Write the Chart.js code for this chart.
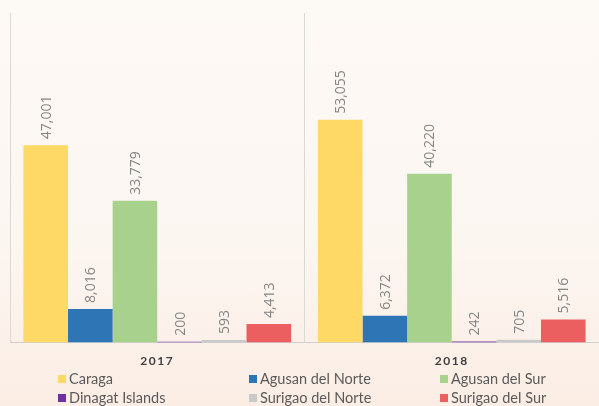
<!DOCTYPE html>
<html>
<head>
<meta charset="utf-8">
<script src="https://cdn.jsdelivr.net/npm/chart.js@4"></script>
<style>
html,body{margin:0;padding:0;}
body{width:599px;height:406px;background:linear-gradient(180deg,#fdf9f5 0%,#fcf6f1 60%,#fbede4 100%);overflow:hidden;}
#wrap{position:relative;width:599px;height:406px;}
</style>
</head>
<body>
<div id="wrap"><canvas id="c" width="599" height="406"></canvas></div>
<script>
const years = ['2017', '2018'];
const provinces = ['Caraga', 'Agusan del Norte', 'Agusan del Sur', 'Dinagat Islands', 'Surigao del Norte', 'Surigao del Sur'];
const caraga = [47001, 53055];
const agusanNorte = [8016, 6372];
const agusanSur = [33779, 40220];
const dinagat = [200, 242];
const surigaoNorte = [593, 705];
const surigaoSur = [4413, 5516];
const colors = ['#FFD966', '#2E75B6', '#A9D18E', '#7030A0', '#C9C9C9', '#EB5F60'];

const seriesValues = [caraga, agusanNorte, agusanSur, dinagat, surigaoNorte, surigaoSur];

const spacing = {
  id: 'spacing',
  beforeDraw(chart) { chart.ctx.letterSpacing = '1.5px'; },
  beforeDatasetsDraw(chart) { chart.ctx.letterSpacing = '0px'; }
};

const valueLabels = {
  id: 'valueLabels',
  afterDatasetsDraw(chart) {
    const ctx = chart.ctx;
    ctx.save();
    ctx.font = '14px "Open Sans"';
    ctx.fillStyle = '#858585';
    ctx.textAlign = 'left';
    ctx.textBaseline = 'middle';
    chart.data.datasets.forEach((ds, i) => {
      const meta = chart.getDatasetMeta(i);
      meta.data.forEach((bar, j) => {
        const txt = ds.data[j].toLocaleString('en-US');
        ctx.save();
        ctx.translate(bar.x + 1, bar.y - 6);
        ctx.rotate(-Math.PI / 2);
        ctx.fillText(txt, 0, 0);
        ctx.restore();
      });
    });
    ctx.restore();
  }
};

const gridLegend = {
  id: 'gridLegend',
  afterDraw(chart) {
    const ctx = chart.ctx;
    ctx.save();
    ctx.letterSpacing = '0px';
    ctx.font = '14.5px Lato';
    ctx.textBaseline = 'middle';
    ctx.textAlign = 'left';
    chart.data.datasets.forEach((ds, i) => {
      const col = i % 3, row = Math.floor(i / 3);
      const x = 58 + col * 191, y = 375 + row * 19;
      ctx.fillStyle = ds.backgroundColor;
      ctx.fillRect(x, y, 8, 8);
      ctx.fillStyle = '#5a5a5a';
      ctx.fillText(ds.label, x + 11, y + 4.5);
    });
    ctx.restore();
  }
};

new Chart(document.getElementById('c'), {
  type: 'bar',
  data: {
    labels: years,
    datasets: provinces.map((p, i) => ({
      label: p,
      data: seriesValues[i],
      backgroundColor: colors[i],
      borderWidth: 0,
      categoryPercentage: 0.909,
      barPercentage: 1.0
    }))
  },
  options: {
    responsive: false,
    animation: false,
    layout: { padding: { left: 10, right: -4, top: 13, bottom: 27 } },
    plugins: { legend: { display: false }, tooltip: { enabled: false } },
    scales: {
      x: {
        grid: { display: true, offset: true, color: '#d9d9d9', lineWidth: 1, drawTicks: false },
        border: { display: true, color: '#d0d0d0', width: 1 },
        ticks: { color: '#404040', font: { family: 'Lato', weight: 'bold', size: 12 }, padding: 11 }
      },
      y: {
        display: false,
        min: 0,
        max: 78500
      }
    }
  },
  plugins: [spacing, valueLabels, gridLegend]
});
</script>
</body>
</html>
